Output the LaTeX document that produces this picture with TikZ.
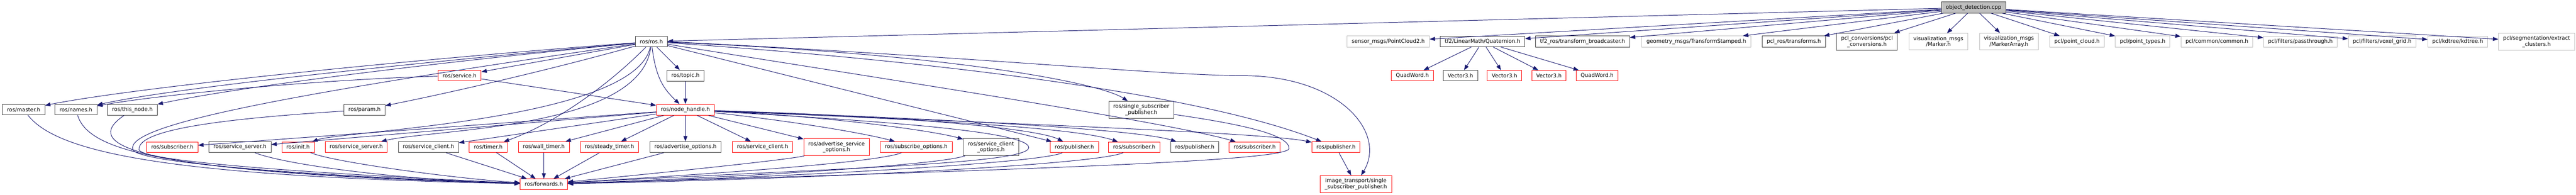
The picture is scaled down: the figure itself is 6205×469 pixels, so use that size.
\documentclass[tikz,border=0pt]{standalone}
\usepackage{fontspec}
\setmainfont{DejaVu Sans}
\usetikzlibrary{arrows.meta}
\definecolor{edgeblue}{HTML}{191970}
\definecolor{docgrey}{HTML}{404040}
\definecolor{undocgrey}{HTML}{BFBFBF}
\begin{document}
\begin{tikzpicture}[x=0.5pt,y=-0.5pt,
    hdr/.style={draw=docgrey,fill=white,line width=0.6pt,inner xsep=5.5pt,inner ysep=3.4pt,minimum height=12.5pt,align=center,font=\fontsize{6.4}{7.2}\selectfont},
    hdrred/.style={hdr,draw=red},
    hdrgrey/.style={hdr,draw=undocgrey},
    hdrroot/.style={hdr,fill=undocgrey},
    inc/.style={draw=edgeblue,line width=0.6pt,-{Triangle[length=6.5pt,width=4.8pt]}}]
\useasboundingbox (0,0) rectangle (6205,469);
\node[hdrroot] (od) at (4754,18) {object\_detection.cpp};
\node[hdr] (ros) at (1569,100) {ros/ros.h};
\node[hdrgrey] (pctwo) at (3344,100) {sensor\_msgs/PointCloud2.h};
\node[hdr] (quat) at (3571,100) {tf2/LinearMath/Quaternion.h};
\node[hdr] (tfbc) at (3812,100) {tf2\_ros/transform\_broadcaster.h};
\node[hdrgrey] (tfst) at (4086,100) {geometry\_msgs/TransformStamped.h};
\node[hdr] (pclros) at (4321,100) {pcl\_ros/transforms.h};
\node[hdr] (pclconv) at (4497,100) {pcl\_conversions/pcl\\\_conversions.h};
\node[hdrgrey] (marker) at (4669,100) {visualization\_msgs\\/Marker.h};
\node[hdrgrey] (markerarr) at (4839,100) {visualization\_msgs\\/MarkerArray.h};
\node[hdrgrey] (pcloud) at (5003,100) {pcl/point\_cloud.h};
\node[hdrgrey] (ptypes) at (5161,100) {pcl/point\_types.h};
\node[hdrgrey] (pcommon) at (5340,100) {pcl/common/common.h};
\node[hdrgrey] (pass) at (5541,100) {pcl/filters/passthrough.h};
\node[hdrgrey] (voxel) at (5738,100) {pcl/filters/voxel\_grid.h};
\node[hdrgrey] (kdtree) at (5920,100) {pcl/kdtree/kdtree.h};
\node[hdrgrey] (extract) at (6110,100) {pcl/segmentation/extract\\\_clusters.h};
\node[hdrred] (service) at (1107,182) {ros/service.h};
\node[hdr] (topic) at (1651,182) {ros/topic.h};
\node[hdrred] (qwA) at (3402,182) {QuadWord.h};
\node[hdr] (vecA) at (3518,182) {Vector3.h};
\node[hdrred] (vecB) at (3624,182) {Vector3.h};
\node[hdrred] (vecC) at (3731,182) {Vector3.h};
\node[hdrred] (qwB) at (3847,182) {QuadWord.h};
\node[hdr] (master) at (57,264) {ros/master.h};
\node[hdr] (names) at (183,264) {ros/names.h};
\node[hdr] (thisnode) at (319,264) {ros/this\_node.h};
\node[hdr] (param) at (878,264) {ros/param.h};
\node[hdrred] (nh) at (1651,264) {ros/node\_handle.h};
\node[hdr] (ssp) at (2749,264) {ros/single\_subscriber\\\_publisher.h};
\node[hdrred] (subA) at (415,354) {ros/subscriber.h};
\node[hdr] (ssA) at (578,354) {ros/service\_server.h};
\node[hdrred] (init) at (718,354) {ros/init.h};
\node[hdrred] (ssB) at (858,354) {ros/service\_server.h};
\node[hdr] (scA) at (1032,354) {ros/service\_client.h};
\node[hdrred] (timer) at (1176,354) {ros/timer.h};
\node[hdrred] (wtimer) at (1310,354) {ros/wall\_timer.h};
\node[hdrred] (stimer) at (1468,354) {ros/steady\_timer.h};
\node[hdr] (advopt) at (1651,354) {ros/advertise\_options.h};
\node[hdrred] (scB) at (1837,354) {ros/service\_client.h};
\node[hdrred] (advsrv) at (2015,354) {ros/advertise\_service\\\_options.h};
\node[hdrred] (subopt) at (2207,354) {ros/subscribe\_options.h};
\node[hdr] (scopt) at (2387,354) {ros/service\_client\\\_options.h};
\node[hdrred] (pubA) at (2588,354) {ros/publisher.h};
\node[hdrred] (subB) at (2732,354) {ros/subscriber.h};
\node[hdr] (pubB) at (2878,354) {ros/publisher.h};
\node[hdrred] (subC) at (3022,354) {ros/subscriber.h};
\node[hdrred] (pubC) at (3218,354) {ros/publisher.h};
\node[hdrred] (fwd) at (1310,443) {ros/forwards.h};
\node[hdrred] (itsp) at (3266,443) {image\_transport/single\\\_subscriber\_publisher.h};
\foreach \a/\b in {od/ros,od/pctwo,od/quat,od/tfbc,od/tfst,od/pclros,od/pclconv,od/marker,od/markerarr,
    od/pcloud,od/ptypes,od/pcommon,od/pass,od/voxel,od/kdtree,od/extract,
    quat/qwA,quat/vecA,quat/vecB,quat/vecC,quat/qwB,
    ros/service,ros/topic,ros/pubA,service/nh,topic/nh,
    nh/subA,nh/ssA,nh/scA,nh/wtimer,nh/stimer,nh/advopt,nh/scB,nh/advsrv,pubC/itsp,
    scA/fwd,timer/fwd,wtimer/fwd,stimer/fwd,advopt/fwd}
  \draw[inc] (\a) -- (\b);
\draw[inc] (ros) .. controls (900,150) and (300,215) .. (master);
\draw[inc] (ros) .. controls (900,160) and (400,215) .. (names);
\draw[inc] (ros) .. controls (900,165) and (520,220) .. (thisnode);
\draw[inc] (ros) .. controls (1300,175) and (1050,230) .. (param);
\draw[inc] (service) .. controls (800,190) and (400,225) .. (names);
\draw[inc] (ros) .. controls (1580,190) and (1600,215) .. (nh);
\draw[inc] (ros) .. controls (1460,210) and (1330,300) .. (timer);
\draw[inc] (ros) .. controls (1530,290) and (820,315) .. (init);
\draw[inc] (ros) .. controls (1545,310) and (1050,310) .. (ssB);
\draw[inc] (ros) .. controls (2300,130) and (2650,200) .. (ssp);
\draw[inc] (ros) .. controls (2300,150) and (2900,230) .. (pubC);
\draw[inc] (ros) .. controls (2000,170) and (2800,290) .. (subC);
\draw[inc] (ros.east) .. controls (2400,140) and (2800,182) .. (3000,182) .. controls (3230,185) and (3340,320) .. (itsp);
\draw[inc] (nh) .. controls (1900,290) and (2080,320) .. (subopt);
\draw[inc] (nh) .. controls (2000,280) and (2250,315) .. (scopt);
\draw[inc] (nh) .. controls (2200,280) and (2500,310) .. (pubA);
\draw[inc] (nh) .. controls (2300,290) and (2600,310) .. (subB);
\draw[inc] (nh) .. controls (2400,290) and (2750,315) .. (pubB);
\draw[inc] (nh) .. controls (2500,300) and (3050,320) .. (pubC);
\draw[inc] (master) .. controls (140,370) and (420,425) .. (fwd);
\draw[inc] (names) .. controls (215,370) and (420,415) .. (fwd);
\draw[inc] (thisnode) .. controls (200,345) and (280,415) .. (fwd);
\draw[inc] (ros) .. controls (700,225) and (300,300) .. (320,360) .. controls (335,395) and (800,425) .. (fwd);
\draw[inc] (param) .. controls (550,285) and (330,310) .. (335,360) .. controls (340,390) and (800,420) .. (fwd);
\draw[inc] (ssA) .. controls (700,400) and (1000,435) .. (fwd);
\draw[inc] (init) .. controls (800,390) and (1100,430) .. (fwd);
\draw[inc] (advsrv) .. controls (1900,385) and (1500,425) .. (fwd);
\draw[inc] (subopt) .. controls (2100,395) and (1600,425) .. (fwd);
\draw[inc] (scopt) .. controls (2250,400) and (1700,430) .. (fwd);
\draw[inc] (pubA) .. controls (2500,395) and (1800,430) .. (fwd);
\draw[inc] (subB) .. controls (2650,395) and (2000,430) .. (fwd);
\draw[inc] (nh) .. controls (2100,290) and (2478,315) .. (2478,355) .. controls (2478,395) and (2000,405) .. (fwd);
\draw[inc] (ssp) .. controls (3000,300) and (3105,325) .. (3105,357) .. controls (3105,385) and (2600,405) .. (fwd);
\end{tikzpicture}
\end{document}
